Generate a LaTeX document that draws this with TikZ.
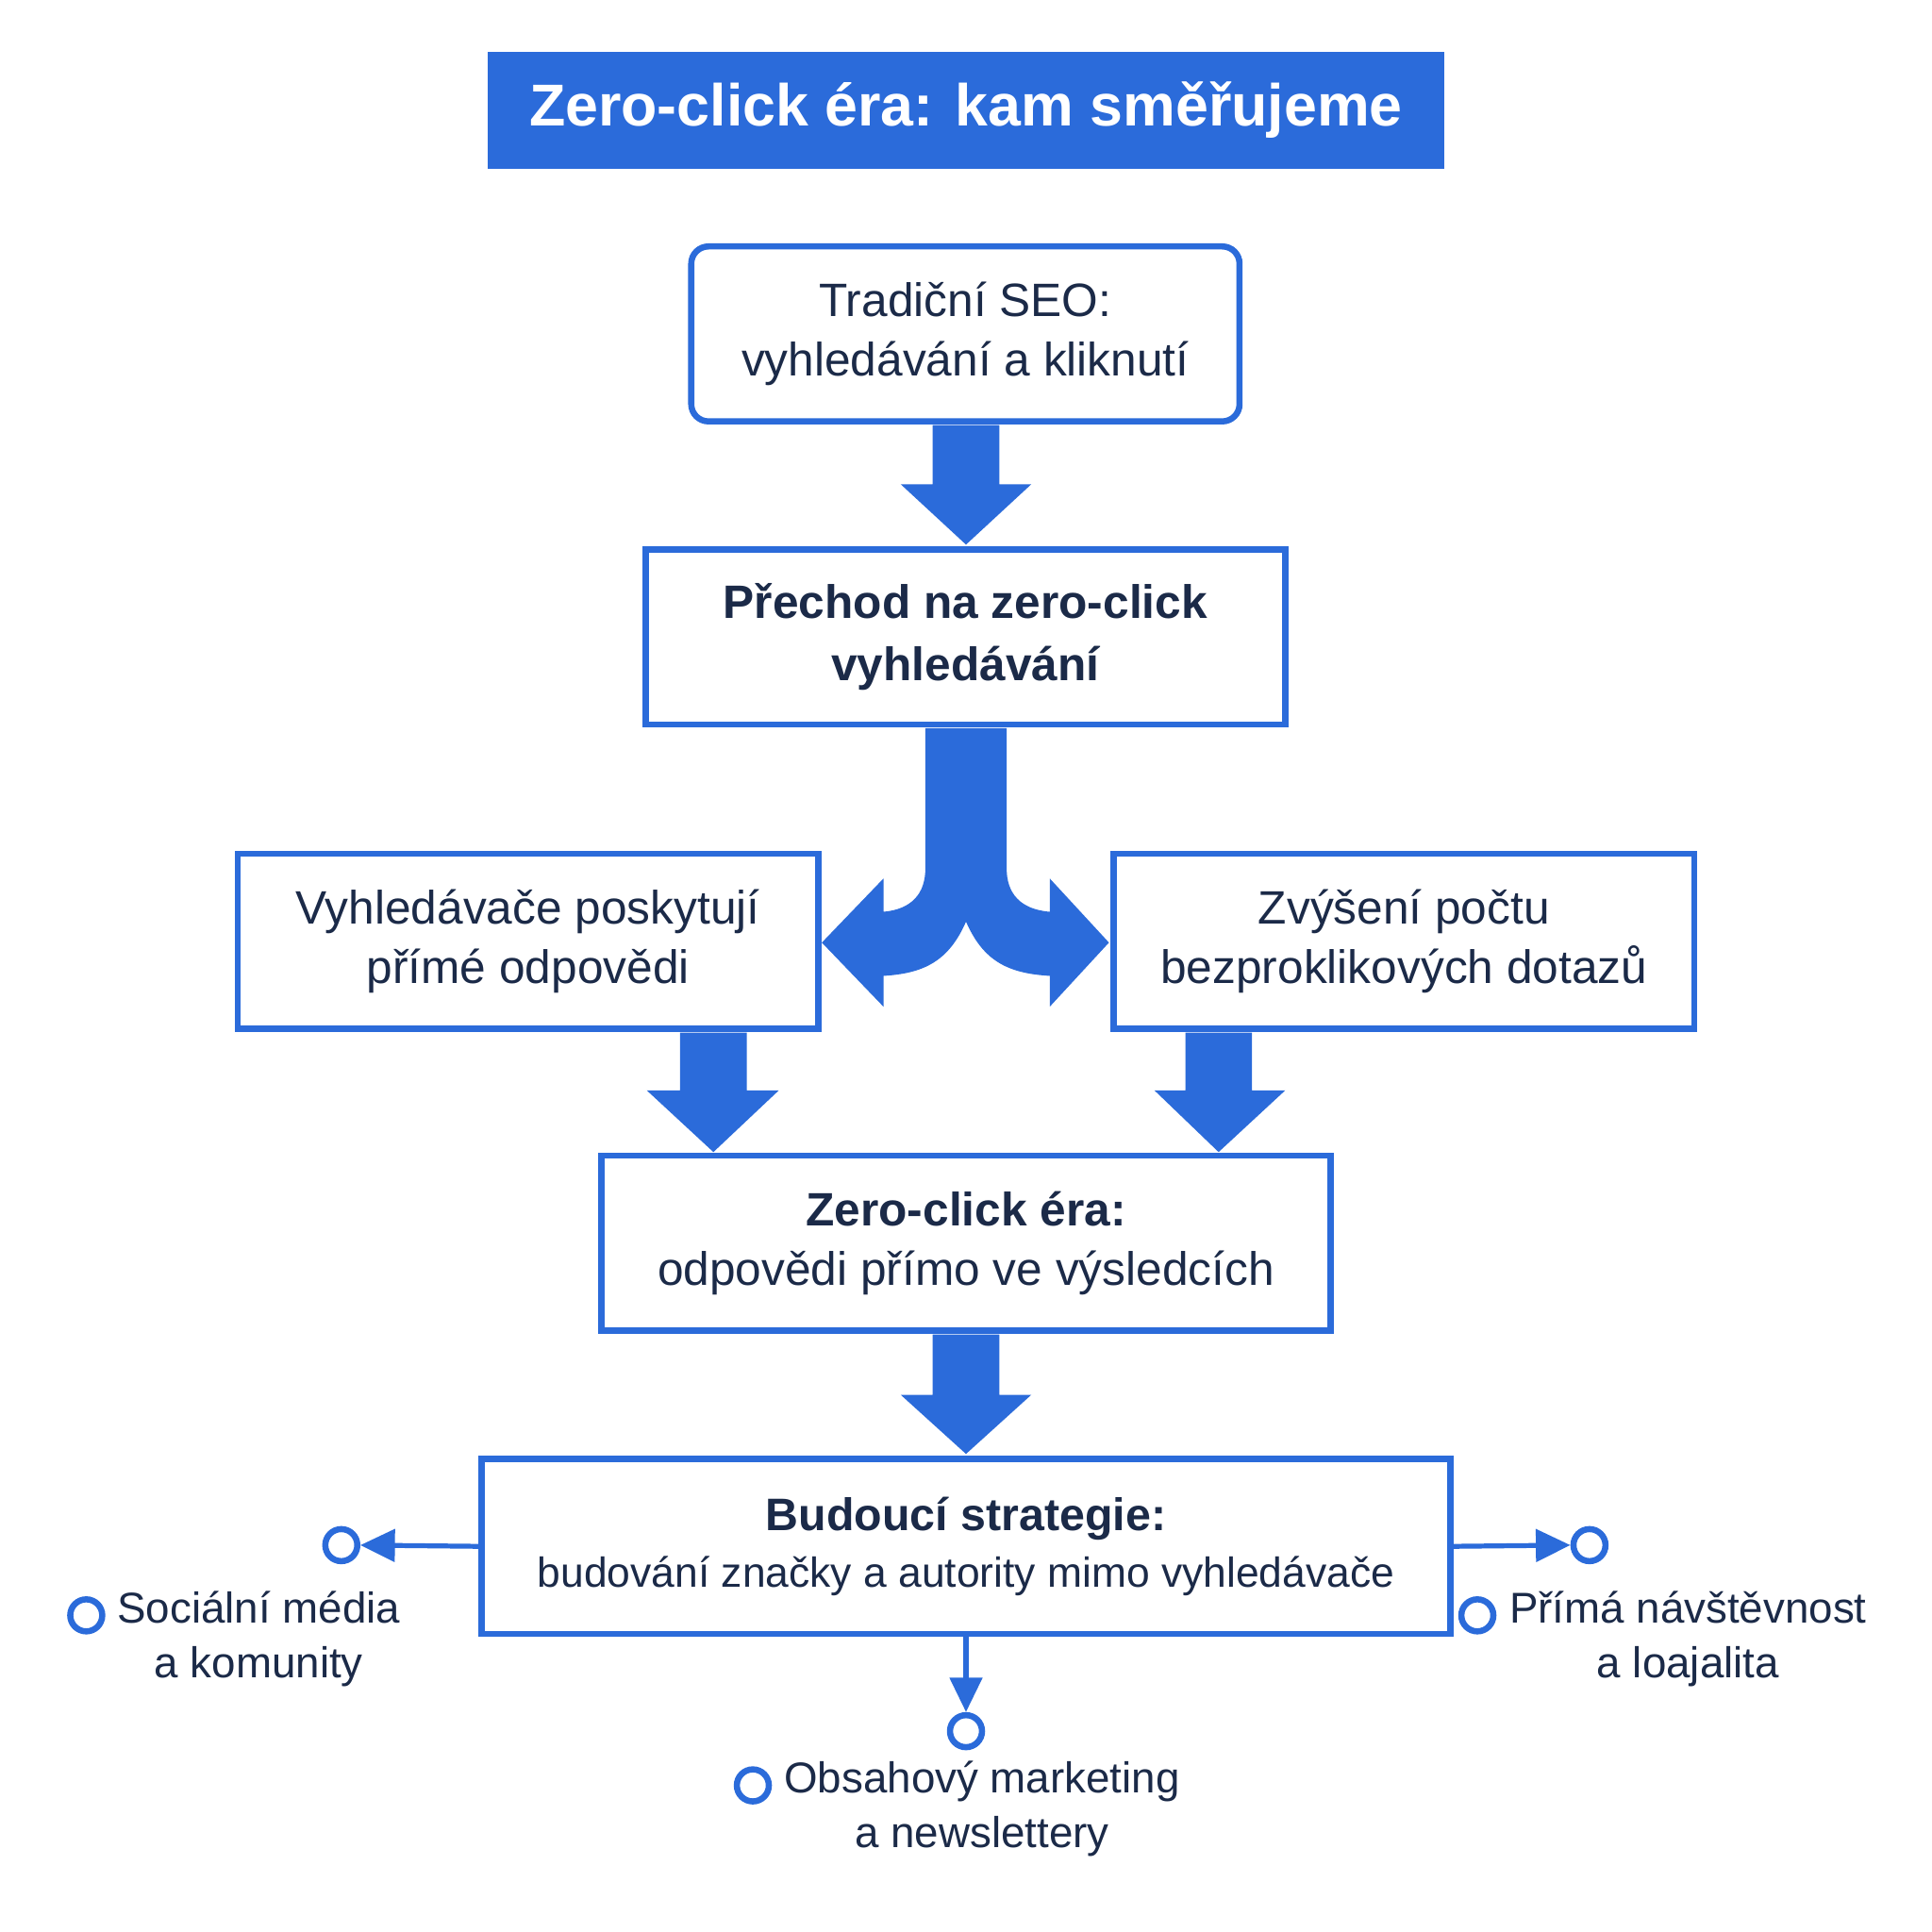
\documentclass[tikz,border=0pt]{standalone}
\usepackage{fontspec}
\setmainfont{Liberation Sans}
\usetikzlibrary{arrows.meta}
\definecolor{bl}{HTML}{2B6BDA}
\definecolor{tx}{HTML}{1B2A48}
\begin{document}
\begin{tikzpicture}[x=1pt,y=-1pt,
 box/.style={draw=bl,line width=5pt,fill=white,align=center,text=tx,font=\fontsize{38}{48}\selectfont},
 thin/.style={draw=bl,line width=4pt,-{Triangle[length=28pt,width=26pt]}},
 dot/.style={circle,draw=bl,line width=5pt,minimum size=26pt,inner sep=0pt},
 lab/.style={align=center,text=tx,font=\fontsize{35}{44}\selectfont}]
\useasboundingbox (0,0) rectangle (1568,1568);
\fill[white] (0,0) rectangle (1568,1568);
\node[fill=bl,minimum width=776pt,minimum height=95pt,text=white,font=\bfseries\fontsize{48}{50}\selectfont] (title) at (784,89.5) {Zero-click éra: kam směřujeme};
\node[box,rounded corners=14pt,minimum width=445pt,minimum height=142pt] (b1) at (783.5,271) {Tradiční SEO:\\vyhledávání a kliknutí};
\node[box,minimum width=519pt,minimum height=142pt,font=\bfseries\fontsize{38}{50}\selectfont] (b2) at (783.5,517) {Přechod na zero-click\\vyhledávání};
\node[box,minimum width=471pt,minimum height=142pt] (b3) at (428.5,764) {Vyhledávače poskytují\\přímé odpovědi};
\node[box,minimum width=471pt,minimum height=142pt] (b4) at (1139.5,764) {Zvýšení počtu\\bezproklikových dotazů};
\node[box,minimum width=592pt,minimum height=142pt] (b5) at (784,1009) {\textbf{Zero-click éra:}\\odpovědi přímo ve výsledcích};
\node[box,minimum width=786pt,minimum height=142pt,font=\fontsize{34}{46}\selectfont] (b6) at (784,1255) {\textbf{\fontsize{37}{46}\selectfont Budoucí strategie:}\\budování značky a autority mimo vyhledávače};
\fill[bl] (757,345) -- (811,345) -- (811,393) -- (837,393) -- (784,442) -- (731,393) -- (757,393) -- cycle;
\fill[bl] (757,1083) -- (811,1083) -- (811,1132) -- (837,1132) -- (784,1180) -- (731,1132) -- (757,1132) -- cycle;
\fill[bl] (552,838) -- (606,838) -- (606,885) -- (632,885) -- (579,935) -- (525,885) -- (552,885) -- cycle;
\fill[bl] (962,838) -- (1016,838) -- (1016,885) -- (1043,885) -- (989,935) -- (937,885) -- (962,885) -- cycle;
\fill[bl] (751,591) -- (751,705) .. controls (751,725) and (740,738) .. (717,740) -- (717,713) -- (667,765) -- (717,817) -- (717,792)
 .. controls (750,790) and (770,780) .. (784,748) .. controls (798,780) and (818,790) .. (852,792) -- (852,817) -- (900,765) -- (852,713) -- (852,740)
 .. controls (828,738) and (817,725) .. (817,705) -- (817,591) -- cycle;
\node[dot] (c1) at (277,1254) {};
\node[dot] (c2) at (1290,1254) {};
\node[dot] (c3) at (784,1405) {};
\draw[thin] (b6.west) -- (c1.east);
\draw[thin] (b6.east) -- (c2.west);
\draw[thin] (b6.south) -- (c3.north);
\node[dot] (d1) at (70,1311) {};
\node[lab,anchor=north] (l1) at (210,1288) {Sociální média\\a komunity};
\node[dot] (d2) at (1199,1311) {};
\node[lab,anchor=north] (l2) at (1370,1288) {Přímá návštěvnost\\a loajalita};
\node[dot] (d3) at (611,1449) {};
\node[lab,anchor=north] (l3) at (797,1426) {Obsahový marketing\\a newslettery};
\end{tikzpicture}
\end{document}
